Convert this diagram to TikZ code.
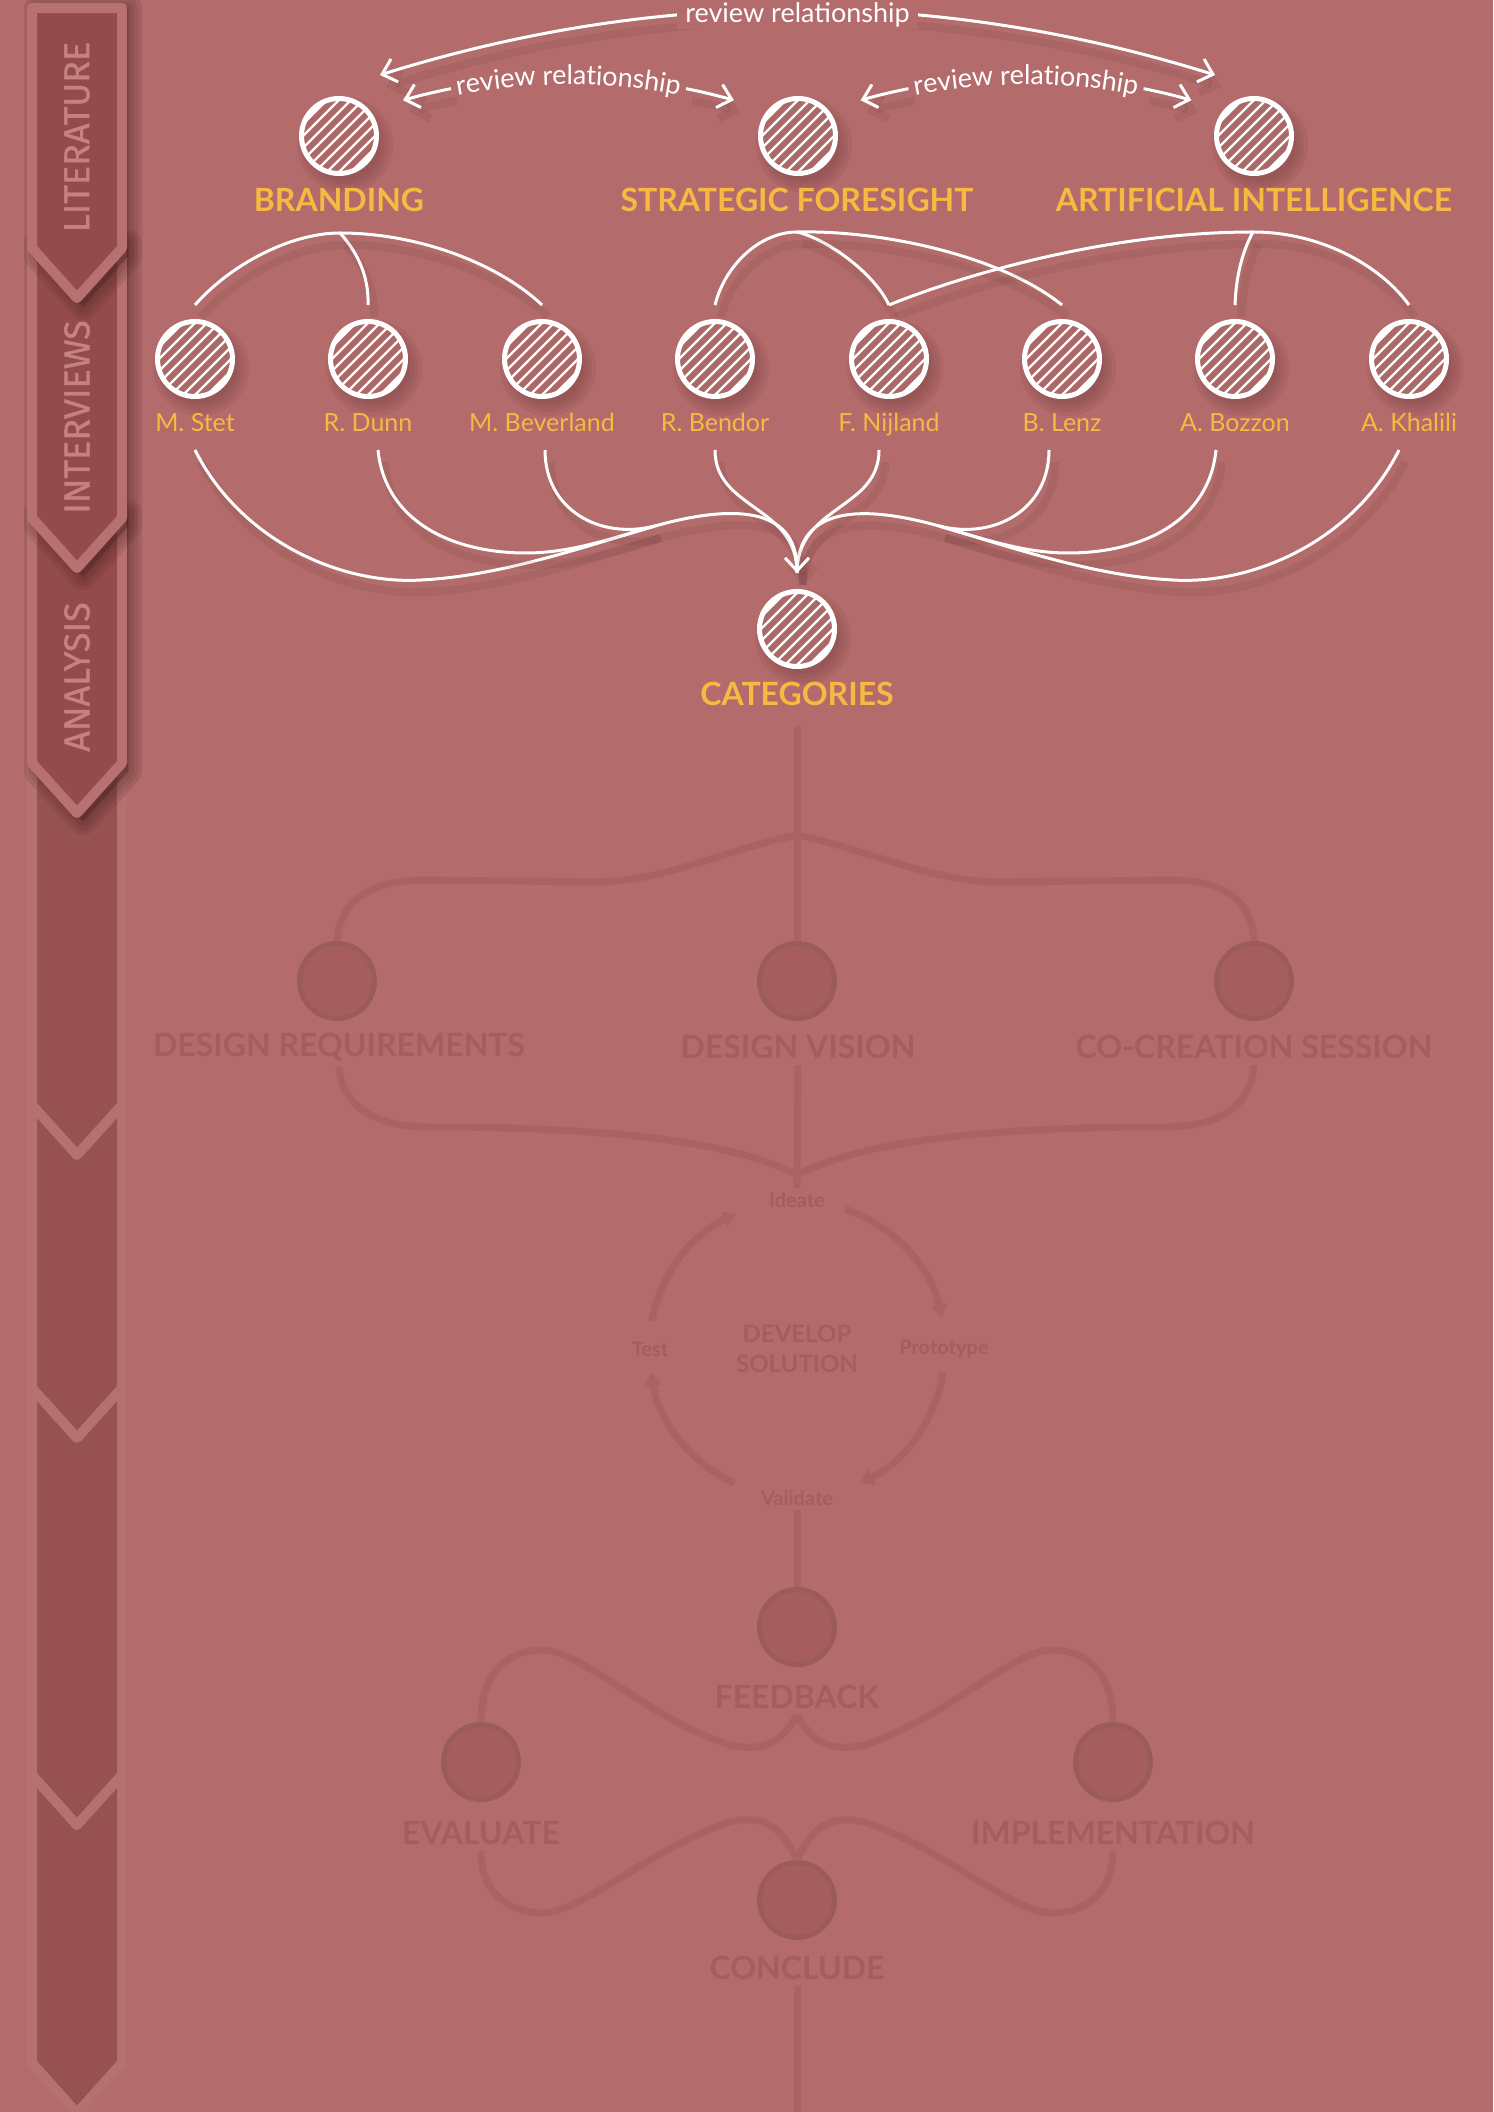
\documentclass[tikz,border=0pt]{standalone}
\usepackage{fontspec}
\setmainfont{Lato}
\newfontfamily\sidefont[FakeBold=0.9]{Fira Sans}
\usetikzlibrary{calc,arrows.meta,decorations.text}
\definecolor{bgc}{HTML}{B36B6B}
\definecolor{gold}{HTML}{F7B941}
\definecolor{darkbar}{HTML}{934B4B}
\definecolor{barborder}{HTML}{B87171}
\definecolor{sidetext}{HTML}{C68282}
\definecolor{shadowc}{HTML}{4E2424}
\definecolor{fline}{HTML}{AA6363}
\definecolor{ffill}{HTML}{A55D5D}
\definecolor{ftxt}{HTML}{A55D5D}
\definecolor{fbar}{HTML}{975151}
\definecolor{fborder}{HTML}{B57070}
\pgfdeclarelayer{bgl}
\pgfdeclarelayer{shadow}
\pgfsetlayers{bgl,shadow,main}
\newcommand\revfont{\fontsize{13.5pt}{15pt}\selectfont}
\newcommand\sbanner[4]{%
  \filldraw[fill=#3, draw=#4, line width=5pt, line join=round]
    (32,#1) -- (32,#2-55) -- (77,#2-5) -- (122,#2-55) -- (122,#1) -- cycle;}
\newcommand\sbshadow[2]{%
  \foreach \w in {2,6,10,14}{%
    \filldraw[shadowc, opacity=0.13, line width=\w pt, line join=round]
      (38,#1) -- (38,#2-47) -- (83,#2+3) -- (128,#2-47) -- (128,#1) -- cycle;}}
\tikzset{
  mybarb/.tip={Straight Barb[length=6.5pt,width=12pt]},
  link/.style={draw=white, line width=1.5pt},
  lsh/.style={preaction={draw=shadowc, line width=4pt, opacity=0.09,
      transform canvas={xshift=3pt,yshift=-6pt}}},
  hcirc/.style={circle, draw=white, fill=bgc!96!black, line width=2.5pt,
    minimum size=37.5pt, inner sep=0pt,
    path picture={\foreach \d in {-60,-48,...,60}{
        \draw[white, line width=1.2pt, shift={(path picture bounding box.center)}]
          (\d-45,45) -- ++(90,-90);}}},
  heading/.style={text=gold, font=\fontsize{16pt}{19pt}\selectfont\bfseries, inner sep=0pt, anchor=base},
  person/.style={text=gold, font=\fontsize{12.5pt}{15pt}\selectfont, inner sep=0pt, anchor=base},
  sidelab/.style={text=sidetext, rotate=90, font=\sidefont\fontsize{18pt}{20pt}\selectfont},
  fcirc/.style={circle, fill=ffill, draw=fline!92!black, line width=2.5pt,
    minimum size=37.5pt, inner sep=0pt},
  flink/.style={draw=fline, line width=3.5pt},
  ftext/.style={text=ftxt, font=\fontsize{16pt}{19pt}\selectfont\bfseries, inner sep=3pt},
  fsmall/.style={text=ftxt, font=\fontsize{10pt}{12pt}\selectfont\bfseries, inner sep=2pt},
  fmid/.style={text=ftxt, font=\fontsize{12pt}{15pt}\selectfont\bfseries, align=center},
}
\begin{document}
\begin{tikzpicture}[x=0.5pt,y=-0.5pt]
\useasboundingbox (0,0) rectangle (1493,2112);
\begin{pgfonlayer}{bgl}
  \fill[bgc] (0,0) rectangle (1493,2112);
\end{pgfonlayer}

% ---------- sidebar (bottom to top) ----------
\sbanner{1770}{2118}{fbar}{fborder}
\sbanner{1383}{1830}{fbar}{fborder}
\sbanner{1100}{1443}{fbar}{fborder}
\sbanner{758}{1160}{fbar}{fborder}
\sbshadow{513}{818}
\sbanner{513}{818}{darkbar}{barborder}
\node[sidelab] (anaT) at (77,677) {ANALYSIS};
\sbshadow{243}{573}
\sbanner{243}{573}{darkbar}{barborder}
\node[sidelab] (intT) at (77,417) {INTERVIEWS};
\sbshadow{8}{303}
\sbanner{8}{303}{darkbar}{barborder}
\node[sidelab] (litT) at (77,137) {LITERATURE};

% ---------- top categories ----------
\node[hcirc] (brand) at (339,136) {};
\node[hcirc] (sf) at (798,136) {};
\node[hcirc] (ai) at (1254,136) {};
\node[heading] (brandL) at (339,212) {BRANDING};
\node[heading] (sfL) at (797,212) {STRATEGIC FORESIGHT};
\node[heading] (aiL) at (1254,212) {ARTIFICIAL INTELLIGENCE};

% ---------- interviewees ----------
\foreach \i/\x/\nm in {1/195/M. Stet, 2/368/R. Dunn, 3/542/M. Beverland, 4/715/R. Bendor,
    5/889/F. Nijland, 6/1062/B. Lenz, 7/1235/A. Bozzon, 8/1409/A. Khalili}{
  \node[hcirc] (p\i) at (\x,359) {};
  \node[person] (n\i) at (\x,432) {\nm};
}

% ---------- categories ----------
\node[hcirc] (cat) at (797,629) {};
\node[heading] (catL) at (797,705) {CATEGORIES};

% circle shadows
\begin{pgfonlayer}{shadow}
  \foreach \n in {brand,sf,ai,p1,p2,p3,p4,p5,p6,p7,p8,cat}{
    \foreach \r in {36,40,44,48}{
      \fill[shadowc, opacity=0.07] ($(\n.center)+(6,9)$) circle[radius=\r];}}
\end{pgfonlayer}

% ---------- review relationship arrows ----------
\coordinate (rb1) at ($(brand.center)+(41,-61)$);
\coordinate (rb2) at ($(ai.center)+(-39,-61)$);
\draw[link, lsh, arrows={mybarb-mybarb}] (rb1) .. controls (658,-12) and (937,-12) .. (rb2)
  node[midway, yshift=-2.5pt, fill=bgc, text=white, font=\revfont, inner xsep=4pt, inner ysep=1pt] (bigL) {review relationship};

\coordinate (arcL) at ($(brand.center)!0.5!(sf.center)+(0,541)$);
\coordinate (arcR) at ($(sf.center)!0.5!(ai.center)+(0,541)$);
\foreach \c in {arcL,arcR}{
  \draw[link, lsh, arrows={mybarb-}] ([shift={(-106:600)}]\c) arc[start angle=-106, end angle=-101.3, radius=600];
  \draw[link, lsh, arrows={-mybarb}] ([shift={(-78.7:600)}]\c) arc[start angle=-78.7, end angle=-74, radius=600];
  \path[decorate, decoration={text along path, text={|\revfont|review relationship},
      text align=center, raise=-3.8pt, text color=white}]
    ([shift={(-102:600)}]\c) arc[start angle=-102, end angle=-78, radius=600];
}

% ---------- tree connectors ----------
\coordinate (bA) at (340,233);
\coordinate (sA) at (797,232);
\coordinate (aA) at (1253,232);
\draw[link, lsh] (bA) .. controls (290,233) and (230,265) .. ([yshift=7pt]p1.north);
\draw[link, lsh] (bA) .. controls (360,255) and (369,280) .. ([yshift=7pt]p2.north);
\draw[link, lsh] (bA) .. controls (420,233) and (500,265) .. ([yshift=7pt]p3.north);
\draw[link, lsh] (sA) .. controls (760,232) and (725,265) .. ([yshift=7pt]p4.north);
\draw[link, lsh] (sA) .. controls (830,240) and (875,275) .. ([yshift=7pt]p5.north);
\draw[link, lsh] (sA) .. controls (880,230) and (1000,255) .. ([yshift=7pt]p6.north);
\draw[link, lsh] (aA) .. controls (1100,232) and (950,280) .. ([yshift=7pt]p5.north);
\draw[link, lsh] (aA) .. controls (1243,250) and (1236,275) .. ([yshift=7pt]p7.north);
\draw[link, lsh] (aA) .. controls (1320,232) and (1380,265) .. ([yshift=7pt]p8.north);

% ---------- interviewees to categories ----------
\coordinate (s1) at (195,450);
\coordinate (s2) at (378,450);
\coordinate (s3) at (545,450);
\coordinate (s4) at (715,450);
\coordinate (s5) at (879,450);
\coordinate (s6) at (1049,450);
\coordinate (s7) at (1216,450);
\coordinate (s8) at (1399,450);
\coordinate (PL) at (655,526);
\coordinate (PR) at (939,526);
\coordinate (catTip) at ([yshift=8pt]cat.north);
\draw[link, lsh] (s1) .. controls (240,540) and (340,585) .. (421,580)
  .. controls (500,576) and (580,548) .. (PL);
\draw[link, lsh] (s2) .. controls (385,520) and (450,553) .. (526,553)
  .. controls (570,553) and (610,539) .. (PL);
\draw[link, lsh] (s3) .. controls (545,510) and (600,540) .. (PL);
\draw[link, lsh] (s6) .. controls (1049,510) and (994,540) .. (PR);
\draw[link, lsh] (s7) .. controls (1209,520) and (1144,553) .. (1068,553)
  .. controls (1024,553) and (984,539) .. (PR);
\draw[link, lsh] (s8) .. controls (1354,540) and (1254,585) .. (1173,580)
  .. controls (1094,576) and (1014,548) .. (PR);
\draw[link, lsh] (s4) .. controls (715,510) and (797,505) .. (catTip);
\draw[link, lsh] (s5) .. controls (879,510) and (797,505) .. (catTip);
\draw[link, lsh] (PR) .. controls (864,505) and (797,505) .. (catTip);
\draw[link, lsh, arrows={-mybarb}] (PL) .. controls (730,505) and (797,505) .. (catTip);

% ---------- faded lower part ----------
\node[fcirc] (dr) at (337,981) {};
\node[fcirc] (dv) at (797,981) {};
\node[fcirc] (cc) at (1254,981) {};
\node[ftext] (drL) at (339,1047) {DESIGN REQUIREMENTS};
\node[ftext] (dvL) at (798,1047) {DESIGN VISION};
\node[ftext] (ccL) at (1254,1047) {CO-CREATION SESSION};
\coordinate (sp1) at (797,835);
\draw[flink] ([yshift=-10pt]catL.south) -- (dv.north);
\draw[flink] (sp1) .. controls (870,850) and (930,882) .. (1000,882) -- (1170,880)
  .. controls (1230,880) and (1252,905) .. (cc.north);
\draw[flink] (sp1) .. controls (724,850) and (664,882) .. (594,882) -- (424,880)
  .. controls (364,880) and (340,905) .. (dr.north);

\node[fsmall] (cT) at (797,1200) {Ideate};
\node[fsmall] (cR) at (944,1349) {Prototype};
\node[fsmall] (cB) at (797,1498) {Validate};
\node[fsmall] (cLf) at (650,1349) {Test};
\node[fmid] (cC) at (797,1349) {DEVELOP\\SOLUTION};
\coordinate (mg1) at (797,1175);
\draw[flink] (drL.south) .. controls (343,1110) and (380,1127) .. (430,1127)
  .. controls (600,1127) and (730,1140) .. (mg1);
\draw[flink] (ccL.south) .. controls (1251,1110) and (1214,1127) .. (1164,1127)
  .. controls (994,1127) and (864,1140) .. (mg1);
\draw[flink] (dvL.south) -- (cT.north);
\coordinate (cyc) at (797,1349);
\foreach \a/\b in {-71/-12, 9/65, 115/171, 191/246}{
  \draw[flink, arrows={-Triangle[length=7pt,width=8pt]}]
    ([shift={(\a:148)}]cyc) arc[start angle=\a, end angle=\b, radius=148];}

\node[fcirc] (fb) at (797,1627) {};
\node[ftext] (fbL) at (797,1697) {FEEDBACK};
\node[fcirc] (ev) at (481,1762) {};
\node[ftext] (evL) at (481,1833) {EVALUATE};
\node[fcirc] (im) at (1113,1762) {};
\node[ftext] (imL) at (1113,1833) {IMPLEMENTATION};
\node[fcirc] (co) at (797,1900) {};
\node[ftext] (coL) at (797,1968) {CONCLUDE};
\draw[flink] (cB.south) -- (fb.north);
\draw[flink] (fbL.south) .. controls (780,1745) and (760,1752) .. (730,1745)
  .. controls (650,1720) and (580,1648) .. (540,1650) .. controls (500,1652) and (481,1680) .. (ev.north);
\draw[flink] (fbL.south) .. controls (814,1745) and (834,1752) .. (864,1745)
  .. controls (944,1720) and (1014,1648) .. (1054,1650) .. controls (1094,1652) and (1113,1680) .. (im.north);
\draw[flink] (co.north) .. controls (780,1823) and (760,1815) .. (730,1822)
  .. controls (650,1848) and (580,1915) .. (540,1913) .. controls (500,1911) and (481,1885) .. (evL.south);
\draw[flink] (co.north) .. controls (814,1823) and (834,1815) .. (864,1822)
  .. controls (944,1848) and (1014,1915) .. (1054,1913) .. controls (1094,1911) and (1113,1885) .. (imL.south);
\coordinate (bottomEnd) at (797,2120);
\draw[flink] (coL.south) -- (bottomEnd);
\end{tikzpicture}
\end{document}
